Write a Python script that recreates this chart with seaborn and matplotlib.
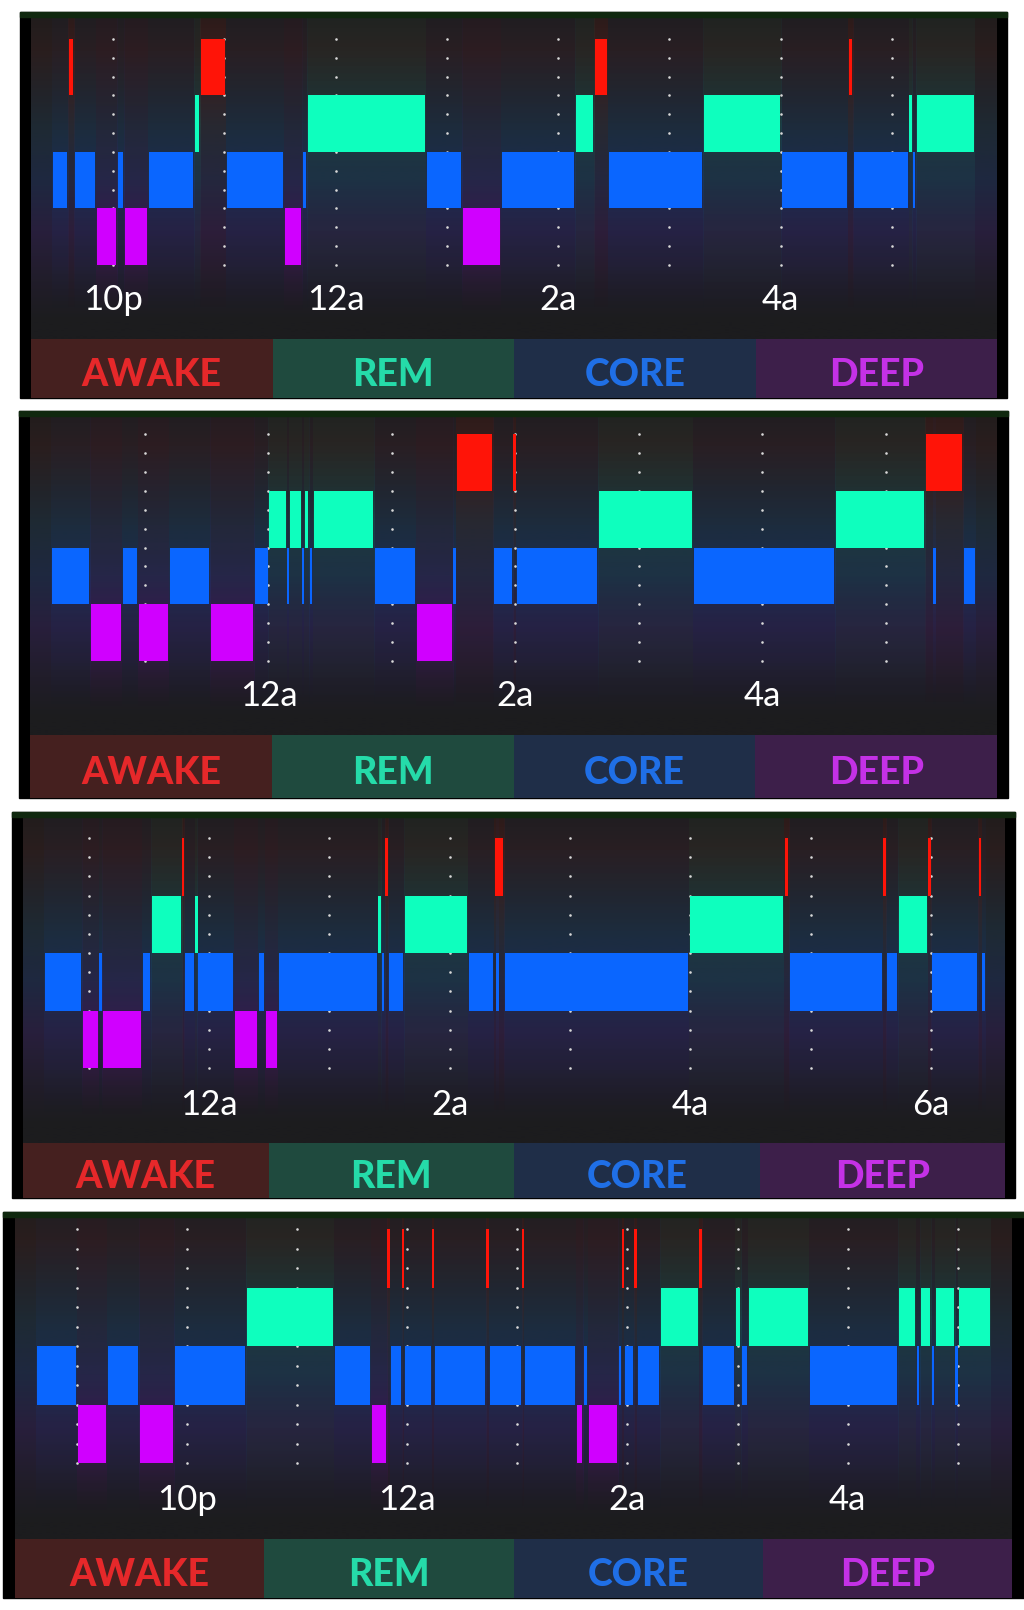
import numpy as np
import pandas as pd
import matplotlib
matplotlib.use("Agg")
import matplotlib.pyplot as plt
import seaborn as sns
from matplotlib import transforms
from matplotlib.patches import Rectangle
from matplotlib.colors import to_rgb

sns.set_theme(style="dark")
plt.rcParams["font.family"] = ["Lato", "DejaVu Sans"]

# ---------------- data (clock hours; 24 = midnight) ----------------
stage_names = ["AWAKE", "REM", "CORE", "DEEP"]
stage_codes = ["A", "R", "C", "D"]

p1_start = [21.452, 21.596, 21.650, 21.847, 22.036, 22.099, 22.314, 22.728, 22.782,
            23.015, 23.536, 23.698, 23.743, 24.812, 25.136, 25.486, 26.151, 26.322,
            26.447, 27.301, 28.002, 28.604, 28.649, 29.152, 29.179, 29.215]
p1_stage = ["C", "A", "C", "D", "C", "D", "C", "R", "A",
            "C", "D", "C", "R", "C", "D", "C", "R", "A",
            "C", "R", "C", "A", "C", "R", "C", "R"]
p1_end = 29.745
p1_extra_start, p1_extra_end, p1_extra_stage = [], [], []
p1_grid = [22, 23, 24, 25, 26, 27, 28, 29]
p1_ticks = [22, 24, 26, 28]
p1_labels = ["10p", "12a", "2a", "4a"]

p2_start = [22.239, 22.555, 22.814, 22.943, 23.194, 23.526, 23.883, 24.000, 24.150,
            24.166, 24.271, 24.287, 24.328, 24.360, 24.854, 25.194, 25.494, 25.518,
            25.818, 25.980, 26.004, 26.668, 27.437, 28.587, 29.316, 29.624]
p2_stage = ["C", "D", "C", "D", "C", "D", "C", "R", "C",
            "R", "C", "R", "C", "R", "C", "D", "C", "A",
            "C", "A", "C", "R", "C", "R", "A", "C"]
p2_end = 29.729
p2_extra_start, p2_extra_end, p2_extra_stage = [29.381], [29.405], ["C"]
p2_grid = [23, 24, 25, 26, 27, 28, 29]
p2_ticks = [24, 26, 28]
p2_labels = ["12a", "2a", "4a"]

p3_start = [22.629, 22.945, 23.086, 23.111, 23.443, 23.518, 23.776, 23.793, 23.884,
            23.904, 24.208, 24.407, 24.465, 24.573, 25.404, 25.429, 25.463, 25.488,
            25.621, 26.152, 26.368, 26.452, 27.989, 28.778, 28.820,
            29.601, 29.626, 29.726, 29.975, 30.000, 30.391, 30.424]
p3_stage = ["C", "D", "C", "D", "C", "R", "A", "C", "R",
            "C", "D", "C", "D", "C", "R", "C", "A", "C",
            "R", "C", "A", "C", "R", "A", "C",
            "A", "C", "R", "A", "C", "A", "C"]
p3_end = 30.449
p3_extra_start, p3_extra_end, p3_extra_stage = [26.389], [26.410], ["C"]
p3_grid = [23, 24, 25, 26, 27, 28, 29, 30]
p3_ticks = [24, 26, 28, 30]
p3_labels = ["12a", "2a", "4a", "6a"]

p4_start = [20.629, 21.001, 21.273, 21.564, 21.882, 22.536, 23.335, 23.671, 23.817,
            23.844, 23.953, 23.971, 24.225, 24.243, 24.716, 24.743, 25.043, 25.061,
            25.533, 25.597, 25.642, 25.915, 25.951, 25.969, 26.060, 26.087, 26.296,
            26.650, 26.678, 26.977, 27.032, 27.095, 27.649, 28.458, 28.621, 28.658,
            28.758, 28.794, 28.976, 29.003]
p4_stage = ["C", "D", "C", "D", "C", "R", "C", "D", "A",
            "C", "A", "C", "A", "C", "A", "C", "A", "C",
            "D", "C", "D", "C", "A", "C", "A", "C", "R",
            "A", "C", "R", "C", "R", "C", "R", "C", "R",
            "C", "R", "C", "R"]
p4_end = 29.302
p4_extra_start, p4_extra_end, p4_extra_stage = [], [], []
p4_grid = [21, 22, 23, 24, 25, 26, 27, 28, 29]
p4_ticks = [22, 24, 26, 28]
p4_labels = ["10p", "12a", "2a", "4a"]

# ---------------- styling ----------------
bar_color = {"A": "#ff1408", "R": "#0effbe", "C": "#0a66ff", "D": "#d000ff"}
row_of = {"A": 0, "R": 1, "C": 2, "D": 3}
label_bg = ["#45201f", "#1f4a3e", "#1f2e48", "#3d1f4a"]
label_fg = ["#e6282a", "#25dba9", "#1f6fe6", "#c431e6"]

W, H = 1024, 1610
fig = plt.figure(figsize=(W / 100, H / 100), dpi=100, facecolor="white")

# layout in pixels: outer x0,x1 ; content x0,x1 ; y top, y bottom ; rows top/bottom ; tick label y ; legend-bar top
# view = visible time window of the axis
panels = [
    dict(start=p1_start, stage=p1_stage, end=p1_end,
         extra=(p1_extra_start, p1_extra_end, p1_extra_stage),
         grid=p1_grid, ticks=p1_ticks, labels=p1_labels,
         view=(21.263, 29.943), box=(20, 1007, 31, 997, 12, 398, 39, 265, 297, 339)),
    dict(start=p2_start, stage=p2_stage, end=p2_end,
         extra=(p2_extra_start, p2_extra_end, p2_extra_stage),
         grid=p2_grid, ticks=p2_ticks, labels=p2_labels,
         view=(22.069, 29.899), box=(19, 1008, 30, 997, 411, 798, 434, 661, 693, 735)),
    dict(start=p3_start, stage=p3_stage, end=p3_end,
         extra=(p3_extra_start, p3_extra_end, p3_extra_stage),
         grid=p3_grid, ticks=p3_ticks, labels=p3_labels,
         view=(22.454, 30.615), box=(12, 1015, 23, 1005, 812, 1198, 838, 1068, 1102, 1143)),
    dict(start=p4_start, stage=p4_stage, end=p4_end,
         extra=(p4_extra_start, p4_extra_end, p4_extra_stage),
         grid=p4_grid, ticks=p4_ticks, labels=p4_labels,
         view=(20.438, 29.493), box=(3, 1024, 15, 1012, 1212, 1598, 1229, 1463, 1497, 1539)),
]


def fig_rect(x0, y0, x1, y1):
    return [x0 / W, 1 - y1 / H, (x1 - x0) / W, (y1 - y0) / H]


grad_y = np.array([-0.6, 0.2, 1.0, 1.6, 2.5, 3.4, 4.3, 5.0, 7.0])
grad_c = np.array([[30, 28, 28], [42, 30, 30], [34, 36, 42], [30, 42, 52], [30, 40, 64],
                   [40, 31, 60], [33, 29, 42], [28, 28, 30], [28, 28, 30]]) / 255.0

for p in panels:
    ox0, ox1, cx0, cx1, yt, yb, rt, rb, ty, lt = p["box"]
    # black frame
    fig.add_artist(Rectangle((ox0 / W, 1 - yb / H), (ox1 - ox0) / W, (yb - yt) / H,
                             transform=fig.transFigure, color="black", zorder=-1))
    ax = fig.add_axes(fig_rect(cx0, yt, cx1, yb))
    ax.set_facecolor("#1c1c1e")
    for sp in ax.spines.values():
        sp.set_visible(False)
    ax.set_xticks([])
    ax.set_yticks([])
    u = (rb - rt) / 4.0
    y_top = (yt - rt) / u
    y_bot = (yb - rt) / u
    y_bar = (lt - rt) / u
    v0, v1 = p["view"]
    px_h = (v1 - v0) / (cx1 - cx0)  # hours per pixel

    # base vertical gradient
    yy = np.linspace(y_top, y_bar, 200)
    base = np.stack([np.interp(yy, grad_y, grad_c[:, k]) for k in range(3)], axis=-1)
    ax.imshow(base[:, None, :], extent=(v0, v1, y_bar, y_top), aspect="auto",
              origin="upper", interpolation="bilinear", zorder=0)

    df = pd.DataFrame({"start": p["start"], "stage": p["stage"]})
    df["end"] = list(df["start"].iloc[1:]) + [p["end"]]
    ex_s, ex_e, ex_st = p["extra"]
    if len(ex_s):
        df = pd.concat([df, pd.DataFrame({"start": ex_s, "end": ex_e, "stage": ex_st})],
                       ignore_index=True)

    # soft glow columns per segment
    ys = np.linspace(-0.45, 4.9, 160)
    for s, e, st in zip(df["start"], df["end"], df["stage"]):
        rgb = to_rgb(bar_color[st])
        rc = row_of[st] + 0.5
        a = 0.02 + 0.075 * np.exp(-np.abs(ys - rc) / 1.0)
        fade = np.clip(1 - (ys - 4.0) / 0.9, 0, 1)
        a = a * np.where(ys > 4.0, fade, 1.0)
        img = np.zeros((len(ys), 1, 4))
        img[..., :3] = rgb
        img[..., 3] = a[:, None]
        ax.imshow(img, extent=(s, e, ys[-1], ys[0]), aspect="auto", origin="upper",
                  interpolation="nearest", zorder=1)

    # dotted hour grid
    dots = pd.DataFrame([(g, k / 3.0) for g in p["grid"] for k in range(13)], columns=["x", "y"])
    sns.scatterplot(data=dots, x="x", y="y", color="#d8d8d8", s=3.5, linewidth=0,
                    ax=ax, zorder=2, legend=False)

    # stage bars
    gap = 1.3 * px_h
    min_w = 2.8 * px_h
    for st in stage_codes:
        sub = df[df["stage"] == st]
        dur = (sub["end"] - sub["start"]).to_numpy()
        wid = np.maximum(dur - gap, min_w)
        left = sub["start"].to_numpy() + (dur - wid) / 2
        ax.barh(y=[row_of[st] + 0.5] * len(sub), width=wid, left=left, height=1.0,
                color=bar_color[st], linewidth=0, zorder=3)

    # hour labels
    for h, lab in zip(p["ticks"], p["labels"]):
        ax.text(h, (ty + 3 - rt) / u, lab, ha="center", va="center", color="white",
                fontsize=25, fontweight="normal", zorder=4)

    # legend bar
    tr = transforms.blended_transform_factory(ax.transAxes, ax.transData)
    for i, name in enumerate(stage_names):
        ax.add_patch(Rectangle((i / 4, y_bar), 0.25, y_bot - y_bar, transform=tr,
                               color=label_bg[i], linewidth=0, zorder=5))
        ax.text(i / 4 + 0.125, (y_bar + y_bot) / 2 + 6 / u, name, transform=tr, ha="center",
                va="center", color=label_fg[i], fontsize=27, fontweight="black", zorder=6)

    ax.set_xlim(v0, v1)
    ax.set_ylim(y_bot, y_top)
    ax.set_xlabel("")
    ax.set_ylabel("")

    # thin dark-green top edge
    fig.add_artist(Rectangle((ox0 / W, 1 - (yt + 5) / H), (ox1 - ox0) / W, 5 / H,
                             transform=fig.transFigure, color="#10280f", zorder=5))

fig.savefig("out.png", dpi=100, facecolor="white")
